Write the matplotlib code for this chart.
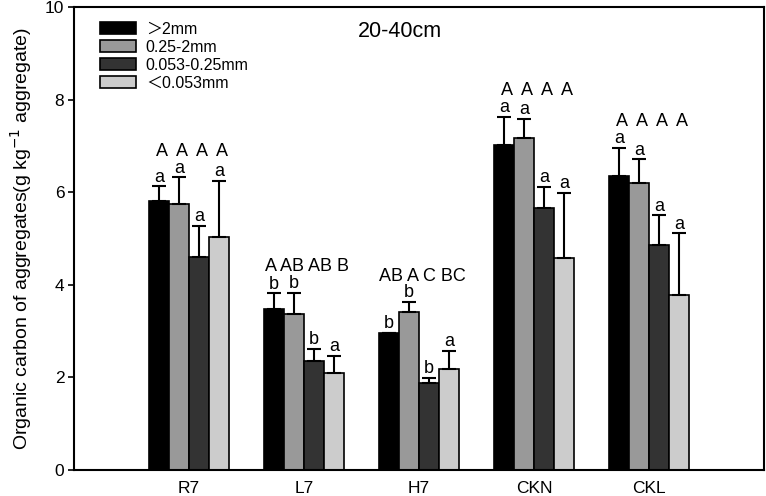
import numpy as np
import matplotlib
matplotlib.use('Agg')
import matplotlib.pyplot as plt

plt.rcParams['font.family'] = ['Liberation Sans', 'Noto Sans CJK SC', 'DejaVu Sans']

sites = ['R7', 'L7', 'H7', 'CKN', 'CKL']
sizes = ['＞2mm', '0.25-2mm', '0.053-0.25mm', '＜0.053mm']
colors = ['#000000', '#999999', '#333333', '#cccccc']

# mean organic carbon per aggregate size class (rows) and site (columns)
means = [
    [5.82, 3.47, 2.96, 7.01, 6.35],
    [5.74, 3.36, 3.41, 7.16, 6.20],
    [4.60, 2.35, 1.88, 5.66, 4.86],
    [5.03, 2.09, 2.19, 4.57, 3.79],
]
# upper error bars
errs = [
    [0.31, 0.35, 0.00, 0.62, 0.61],
    [0.58, 0.47, 0.22, 0.42, 0.51],
    [0.67, 0.27, 0.11, 0.45, 0.64],
    [1.21, 0.37, 0.39, 1.42, 1.32],
]
# letters within a site (lowercase, one per bar)
lower = [
    ['a', 'b', 'b', 'a', 'a'],
    ['a', 'b', 'b', 'a', 'a'],
    ['a', 'b', 'b', 'a', 'a'],
    ['a', 'a', 'a', 'a', 'a'],
]
# letters between sites (uppercase, one string per site)
upper = ['A  A  A  A', 'A AB AB B', 'AB A C BC', 'A  A  A  A', 'A  A  A  A']

fig = plt.figure(figsize=(7.66, 4.96), dpi=100)
ax = fig.add_axes([74 / 766, 26 / 496, 690 / 766, 463 / 496])

x = np.arange(len(sites))
w = 0.175
offsets = [-1.5 * w, -0.5 * w, 0.5 * w, 1.5 * w]

tops = np.array(means) + np.array(errs)
for i in range(4):
    m = np.array(means[i])
    e = np.array(errs[i])
    ax.bar(x + offsets[i], m, w, color=colors[i], edgecolor='black', linewidth=1.2,
           label=sizes[i], zorder=2)
    ax.errorbar(x + offsets[i], m, yerr=[np.zeros_like(e), e], fmt='none',
                ecolor='black', elinewidth=1.5, capsize=4.7, capthick=1.5, zorder=3)
    for j in range(len(sites)):
        ax.text(x[j] + offsets[i], tops[i, j] + 0.1, lower[i][j], ha='center',
                va='baseline', fontsize=13)

for j in range(len(sites)):
    ax.text(x[j] + 0.03, tops[:, j].max() + 0.46, upper[j], ha='center',
            va='baseline', fontsize=13)

ax.set_xlim(-1, 5)
ax.set_ylim(0, 10)
ax.set_xticks(x)
ax.set_xticklabels(sites, fontsize=12.5)
ax.tick_params(axis='x', length=0, pad=8)
ax.set_yticks([0, 2, 4, 6, 8, 10])
ax.tick_params(axis='y', labelsize=12.5, length=4, width=1.2, direction='out', pad=3)
for s in ax.spines.values():
    s.set_linewidth(1.5)
ax.set_ylabel('Organic carbon of aggregates(g kg$^{-1}$ aggregate)', fontsize=14,
              labelpad=8)

ax.text(0.472, 0.936, '20-40cm', transform=ax.transAxes, ha='center',
        va='baseline', fontsize=15.5)

ax.legend(loc='upper left', bbox_to_anchor=(0.037, 0.968), frameon=False,
          fontsize=11.5, handlelength=2.3, handleheight=0.8, handletextpad=0.6,
          labelspacing=0.18, borderpad=0, borderaxespad=0)

fig.savefig('out.png', dpi=100)
